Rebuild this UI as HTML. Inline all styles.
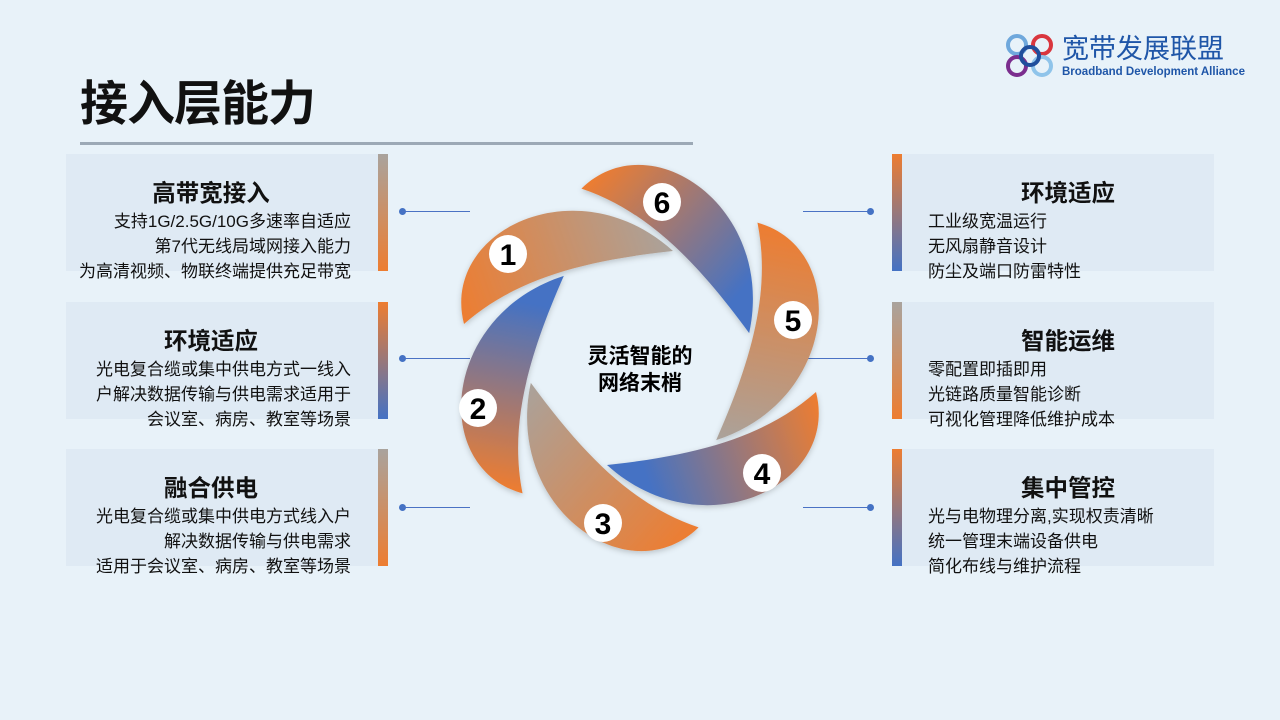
<!DOCTYPE html>
<html><head><meta charset="utf-8"><style>
*{margin:0;padding:0;box-sizing:border-box}
body{width:1280px;height:720px;background:#e8f2f9;position:relative;overflow:hidden;font-family:"Liberation Sans","Noto Sans CJK SC",sans-serif;color:#111}
.title{position:absolute;left:80px;top:64px;font-size:48px;font-weight:bold;letter-spacing:-1px}
.rule{position:absolute;left:80px;top:142px;width:613px;height:3px;background:#9ca9b6}
.box{position:absolute;background:#dfeaf4;width:312px;height:117px}
.box h3{position:absolute;font-size:23.5px;font-weight:bold;top:20px;width:100%}
.box p{position:absolute;font-size:17px;line-height:25px;top:55px;white-space:nowrap}
.l h3{left:0;width:290px;text-align:center}
.l p{right:27px;text-align:right}
.r h3{left:0;width:332px;text-align:center}
.r p{left:26px}
.bar{position:absolute;width:10px;height:117px}
.line{position:absolute;height:1px;background:#4a72c4;width:68px}
.dot{position:absolute;width:7px;height:7px;border-radius:50%;background:#4472c4}
</style></head><body>
<div class="title">接入层能力</div>
<div class="rule"></div>

<div class="box l" style="left:66px;top:154px"><h3>高带宽接入</h3><p>支持1G/2.5G/10G多速率自适应<br>第7代无线局域网接入能力<br>为高清视频、物联终端提供充足带宽</p></div>
<div class="bar" style="left:378px;top:154px;background:linear-gradient(#a9a39d,#ed7d31)"></div>
<div class="box l" style="left:66px;top:302px"><h3>环境适应</h3><p>光电复合缆或集中供电方式一线入<br>户解决数据传输与供电需求适用于<br>会议室、病房、教室等场景</p></div>
<div class="bar" style="left:378px;top:302px;background:linear-gradient(#ed7d31,#4472c4)"></div>
<div class="box l" style="left:66px;top:449px"><h3>融合供电</h3><p>光电复合缆或集中供电方式线入户<br>解决数据传输与供电需求<br>适用于会议室、病房、教室等场景</p></div>
<div class="bar" style="left:378px;top:449px;background:linear-gradient(#a9a39d,#ed7d31)"></div>

<div class="box r" style="left:902px;top:154px"><h3>环境适应</h3><p>工业级宽温运行<br>无风扇静音设计<br>防尘及端口防雷特性</p></div>
<div class="bar" style="left:892px;top:154px;background:linear-gradient(#ed7d31,#4472c4)"></div>
<div class="box r" style="left:902px;top:302px"><h3>智能运维</h3><p>零配置即插即用<br>光链路质量智能诊断<br>可视化管理降低维护成本</p></div>
<div class="bar" style="left:892px;top:302px;background:linear-gradient(#a9a39d,#ed7d31)"></div>
<div class="box r" style="left:902px;top:449px"><h3>集中管控</h3><p>光与电物理分离,实现权责清晰<br>统一管理末端设备供电<br>简化布线与维护流程</p></div>
<div class="bar" style="left:892px;top:449px;background:linear-gradient(#ed7d31,#4472c4)"></div>

<div class="dot" style="left:399px;top:208px"></div><div class="line" style="left:402px;top:211px"></div>
<div class="dot" style="left:399px;top:355px"></div><div class="line" style="left:402px;top:358px"></div>
<div class="dot" style="left:399px;top:504px"></div><div class="line" style="left:402px;top:507px"></div>
<div class="line" style="left:803px;top:211px"></div><div class="dot" style="left:867px;top:208px"></div>
<div class="line" style="left:803px;top:358px"></div><div class="dot" style="left:867px;top:355px"></div>
<div class="line" style="left:803px;top:507px"></div><div class="dot" style="left:867px;top:504px"></div>

<svg style="position:absolute;left:0;top:0" width="1280" height="720">
<defs>
<linearGradient id="ga" gradientUnits="userSpaceOnUse" x1="-175" y1="-35" x2="33" y2="-107"><stop offset="0" stop-color="#ed7d31"/><stop offset="1" stop-color="#aaa29b"/></linearGradient>
<linearGradient id="gb" gradientUnits="userSpaceOnUse" x1="-175" y1="-35" x2="33" y2="-107"><stop offset="0" stop-color="#ed7d31"/><stop offset="0.85" stop-color="#4472c4"/></linearGradient>
<filter id="sh" x="-20%" y="-20%" width="140%" height="140%"><feDropShadow dx="0" dy="2" stdDeviation="3" flood-color="#000" flood-opacity="0.2"/></filter>
<path id="pt" d="M-176,-34 C-200,-128 -62,-193 33,-107 C-60,-97 -126,-78 -176,-34 Z"/>
</defs>
<g transform="translate(640,358)" filter="url(#sh)">
<use href="#pt" fill="url(#ga)"/>
<use href="#pt" fill="url(#gb)" transform="rotate(60)"/>
<use href="#pt" fill="url(#ga)" transform="rotate(120)"/>
<use href="#pt" fill="url(#gb)" transform="rotate(180)"/>
<use href="#pt" fill="url(#ga)" transform="rotate(240)"/>
<use href="#pt" fill="url(#gb)" transform="rotate(300)"/>
</g>
<g font-family="Liberation Sans,sans-serif" font-weight="bold" font-size="30" text-anchor="middle">
<circle cx="508" cy="254" r="19" fill="#fff"/><text x="508" y="265">1</text>
<circle cx="478" cy="408" r="19" fill="#fff"/><text x="478" y="419">2</text>
<circle cx="603" cy="523" r="19" fill="#fff"/><text x="603" y="534">3</text>
<circle cx="762" cy="473" r="19" fill="#fff"/><text x="762" y="484">4</text>
<circle cx="793" cy="320" r="19" fill="#fff"/><text x="793" y="331">5</text>
<circle cx="662" cy="202" r="19" fill="#fff"/><text x="662" y="213">6</text>
</g>
<g font-family="Liberation Sans,Noto Sans CJK SC,sans-serif" font-weight="bold" font-size="21" text-anchor="middle">
<text x="640" y="363">灵活智能的</text><text x="640" y="390">网络末梢</text>
</g>
<g fill="none" stroke-width="4">
<circle cx="1017" cy="45" r="9" stroke="#6fa8dc"/>
<circle cx="1042" cy="45" r="9" stroke="#d9363e"/>
<circle cx="1017" cy="66" r="9" stroke="#7b2e8e"/>
<circle cx="1042" cy="66" r="9" stroke="#8fc4ea"/>
<circle cx="1030" cy="56" r="9" stroke="#1f4e9c"/>
</g>
<text x="1062" y="58" font-family="Liberation Sans,Noto Sans CJK SC,sans-serif" font-size="27" fill="#1f56a8">宽带发展联盟</text>
<text x="1062" y="75" font-family="Liberation Sans,sans-serif" font-size="11.5" font-weight="bold" fill="#1f56a8">Broadband Development Alliance</text>
</svg>
</body></html>
